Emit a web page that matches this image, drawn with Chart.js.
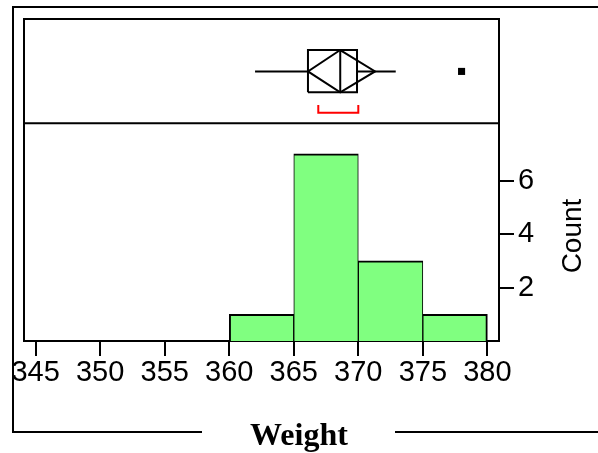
<!DOCTYPE html>
<html>
<head>
<meta charset="utf-8">
<script src="https://cdn.jsdelivr.net/npm/chart.js@4/dist/chart.umd.min.js"></script>
<style>
  html, body { margin: 0; padding: 0; background: #ffffff; }
  #wrap { position: relative; width: 598px; height: 453px; }
</style>
</head>
<body>
<div id="wrap"><canvas id="c" width="598" height="453"></canvas></div>
<script>
// ---- data ----
const binStarts = [360, 365, 370, 375];
const binWidth = 5;
const binCounts = [1, 7, 3, 1];
const xTickValues = [345, 350, 355, 360, 365, 370, 375, 380];
const yTickValues = [2, 4, 6];
// outlier box plot statistics of Weight
const boxQuartiles = [366.1, 368.6, 369.9];   // Q1, median, Q3
const boxWhiskers = [362, 372.9];             // lower / upper whisker ends
const meanValue = [368.6];
const meanCI = [366.1, 371.3];                // 95% confidence diamond
const shortestHalf = [366.9, 370.0];          // red bracket
const outliers = [378];
const xTitle = 'Weight';
const yTitle = 'Count';

// ---- layout (positions, not data) ----
const X_MIN = 344.1, X_MAX = 380.9;
const Y_MAX = 12.04;          // histogram scale extended to host the box-plot panel
const PANEL_DIVIDER = 8.14;
const BOX_TOP = 10.88, BOX_MID = 10.08, BOX_BOT = 9.30;
const BRK_TOP = 8.82, BRK_BOT = 8.53;

const FONT = "'Liberation Sans', Arial, sans-serif";

const histData = binStarts.map((s, i) => ({ x: s + binWidth / 2, y: binCounts[i] }));
const [q1, med, q3] = boxQuartiles;
const lineDS = (pts, color) => ({
  type: 'line', data: pts, borderColor: color || '#000', borderWidth: 2,
  pointRadius: 0, tension: 0, fill: false, showLine: true, order: 0,
  borderJoinStyle: 'miter', borderCapStyle: 'butt'
});

const datasets = [
  {
    type: 'bar', data: histData, backgroundColor: '#80ff80', borderColor: '#000',
    borderWidth: ctx => ({ top: 2, bottom: 0,
      left: ctx.dataIndex === 0 ? 2 : 1,
      right: ctx.dataIndex === binCounts.length - 1 ? 2 : 1 }),
    borderSkipped: false, barPercentage: 1, categoryPercentage: 1, order: 1
  },
  lineDS([{ x: boxWhiskers[0], y: BOX_MID }, { x: q1, y: BOX_MID }]),
  lineDS([{ x: q3, y: BOX_MID }, { x: boxWhiskers[1], y: BOX_MID }]),
  lineDS([{ x: q1, y: BOX_BOT }, { x: q1, y: BOX_TOP }, { x: q3, y: BOX_TOP }, { x: q3, y: BOX_BOT }, { x: q1, y: BOX_BOT }]),
  lineDS([{ x: med, y: BOX_BOT }, { x: med, y: BOX_TOP }]),
  lineDS([{ x: meanValue[0], y: BOX_TOP }, { x: meanCI[1], y: BOX_MID }, { x: meanValue[0], y: BOX_BOT }, { x: meanCI[0], y: BOX_MID }, { x: meanValue[0], y: BOX_TOP }]),
  lineDS([{ x: shortestHalf[0], y: BRK_TOP }, { x: shortestHalf[0], y: BRK_BOT }, { x: shortestHalf[1], y: BRK_BOT }, { x: shortestHalf[1], y: BRK_TOP }], '#ff0000'),
  {
    type: 'scatter', data: outliers.map(v => ({ x: v, y: BOX_MID })),
    pointStyle: 'rect', pointRadius: 5, backgroundColor: '#000', borderColor: '#000', borderWidth: 0, order: 0
  }
];

const framePlugin = {
  id: 'frame',
  afterDraw(chart) {
    const ctx = chart.ctx;
    const a = chart.chartArea;
    const y = chart.scales.y;
    ctx.save();
    ctx.strokeStyle = '#000';
    ctx.lineWidth = 2;
    // plot panels frame
    ctx.beginPath();
    ctx.moveTo(a.left, a.bottom); ctx.lineTo(a.left, a.top); ctx.lineTo(a.right, a.top); ctx.lineTo(a.right, a.bottom);
    const dy = y.getPixelForValue(PANEL_DIVIDER);
    ctx.moveTo(a.left, dy); ctx.lineTo(a.right, dy);
    ctx.stroke();
    // outer frame
    ctx.beginPath();
    ctx.moveTo(598, 7); ctx.lineTo(13, 7); ctx.lineTo(13, 432); ctx.lineTo(202, 432);
    ctx.moveTo(395, 432); ctx.lineTo(598, 432);
    ctx.stroke();
    // titles
    ctx.fillStyle = '#000';
    ctx.font = "bold 32px 'Liberation Serif', 'Times New Roman', serif";
    ctx.textAlign = 'center'; ctx.textBaseline = 'middle';
    ctx.fillText(xTitle, 299, 437);
    ctx.translate(573, 236);
    ctx.rotate(-Math.PI / 2);
    ctx.font = "28px " + FONT;
    ctx.fillText(yTitle, 0, 0);
    ctx.restore();
  }
};

new Chart(document.getElementById('c'), {
  type: 'bar',
  data: { datasets },
  options: {
    responsive: false, animation: false, devicePixelRatio: 1,
    layout: { padding: { left: 24, top: 19, right: 0, bottom: 0 } },
    plugins: { legend: { display: false }, tooltip: { enabled: false }, title: { display: false } },
    scales: {
      x: {
        type: 'linear', min: X_MIN, max: X_MAX, offset: false,
        afterBuildTicks: s => { s.ticks = xTickValues.map(v => ({ value: v })); },
        afterFit: s => { s.height = 112; s.paddingLeft = 0; s.paddingRight = 0; },
        grid: { display: true, drawOnChartArea: false, drawTicks: true, tickLength: 15, color: '#000', lineWidth: 2, offset: false },
        border: { display: true, color: '#000', width: 2 },
        ticks: { color: '#000', font: { family: FONT, size: 29 }, padding: 0, maxRotation: 0, autoSkip: false }
      },
      y: {
        type: 'linear', position: 'right', min: 0, max: Y_MAX,
        afterBuildTicks: s => { s.ticks = yTickValues.map(v => ({ value: v })); },
        afterFit: s => { s.width = 99; s.paddingTop = 0; s.paddingBottom = 0; },
        grid: { display: true, drawOnChartArea: false, drawTicks: true, tickLength: 15, color: '#000', lineWidth: 2 },
        border: { display: true, color: '#000', width: 2 },
        ticks: { color: '#000', font: { family: FONT, size: 29 }, padding: 4 }
      }
    }
  },
  plugins: [framePlugin]
});
</script>
</body>
</html>
